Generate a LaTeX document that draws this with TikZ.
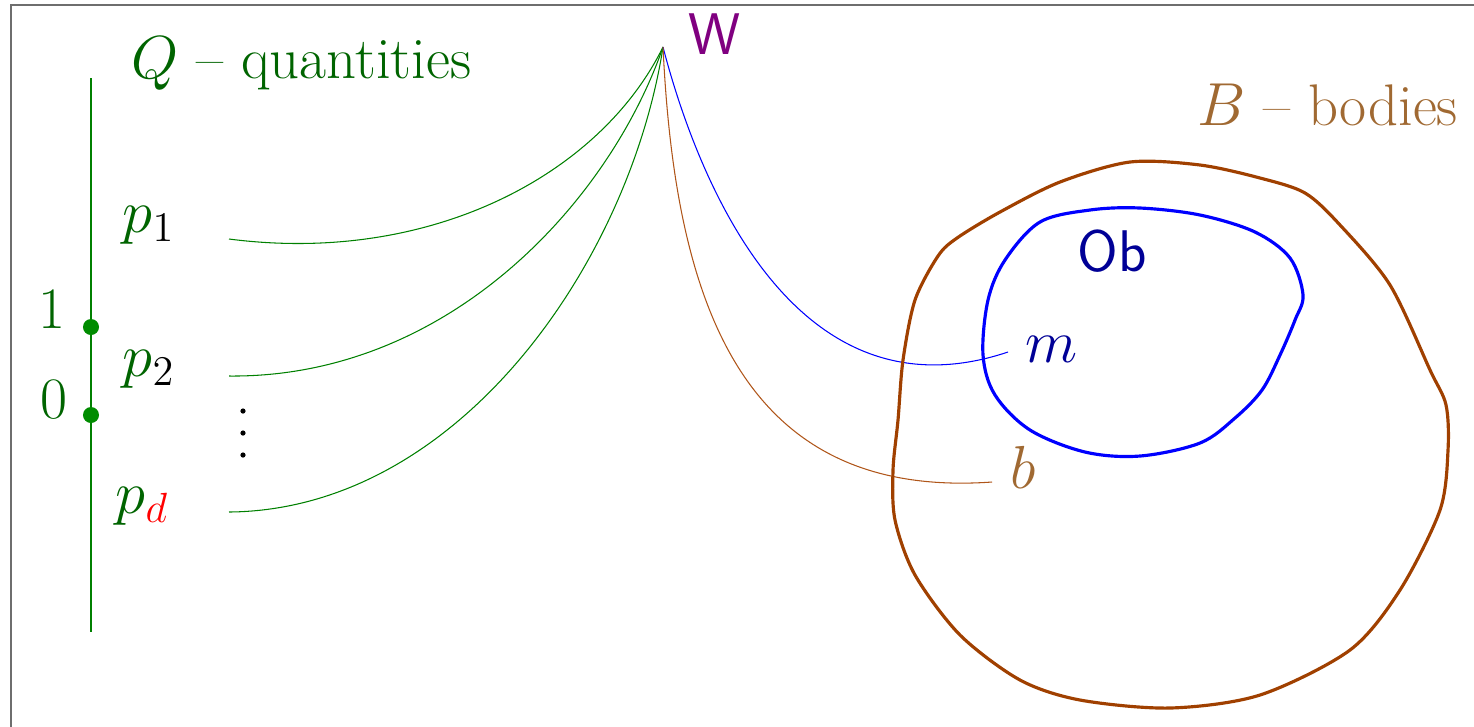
\documentclass[tikz,border=0pt]{standalone}
\begin{document}
\definecolor{qtext}{RGB}{0,100,0}
\definecolor{qline}{RGB}{0,128,0}
\definecolor{qdot}{RGB}{0,140,0}
\definecolor{btext}{RGB}{160,105,50}
\definecolor{bbody}{RGB}{160,64,0}
\definecolor{bline}{RGB}{175,85,25}
\definecolor{obtext}{RGB}{0,0,150}
\definecolor{wpurple}{RGB}{128,0,128}
\definecolor{framegray}{RGB}{110,110,110}
\begin{tikzpicture}[x=0.01cm,y=-0.01cm,
  lbl/.style={inner sep=0pt,font=\fontsize{16.7}{20}\selectfont},
  sflbl/.style={inner sep=0pt,font=\fontsize{16.7}{20}\selectfont\sffamily},
  thinq/.style={qline,line width=0.3pt},
  body/.style={line width=0.9pt},
  dotq/.style={circle,fill=qdot,inner sep=0pt,minimum size=0.16cm}]
\useasboundingbox (0,0) rectangle (1474,726);
\draw[framegray,line width=0.6pt] (11,5) rectangle (1490,740);
% axis
\coordinate (axtop) at (91,78);
\coordinate (axbot) at (91,632);
\draw[qline,line width=0.45pt] (axtop) -- (axbot);
\node[dotq] (one) at (91,327) {};
\node[dotq] (zero) at (91,415) {};
\node[lbl,text=qtext,anchor=base east] (l1) at (66,328) {1};
\node[lbl,text=qtext,anchor=base east] (l0) at (68,418) {0};
% titles
\node[lbl,text=qtext,anchor=base west] (Q) at (131,78) {$Q$ -- quantities};
\node[lbl,text=btext,anchor=base west] (B) at (1197,125) {$B$ -- bodies};
\node[sflbl,text=wpurple,anchor=base west] (Wl) at (688,54) {W};
% p labels
\node[lbl,text=qtext,anchor=base west] (p1) at (122,232) {$p_{\textcolor{black}{1}}$};
\node[lbl,text=qtext,anchor=base west] (p2) at (122,376) {$p_{\textcolor{black}{2}}$};
\node[lbl,text=qtext,anchor=base west] (pd) at (115,513) {$p_{\textcolor{red}{d}}$};
\fill (243,411) circle (2.6);
\fill (243,433) circle (2.6);
\fill (243,455) circle (2.6);
% apex and ends
\coordinate (W) at (663,47);
\coordinate (e1) at (229,239);
\coordinate (e2) at (229,376);
\coordinate (e3) at (229,512);
\coordinate (em) at (1008,352);
\coordinate (eb) at (992,482);
\draw[thinq] (e1) .. controls (430,265) and (600,175) .. (W);
\draw[thinq] (e2) .. controls (450,378) and (610,200) .. (W);
\draw[thinq] (e3) .. controls (460,510) and (630,260) .. (W);
\draw[blue,line width=0.3pt] (W) .. controls (695,170) and (790,425) .. (em);
\draw[bline,line width=0.3pt] (W) .. controls (675,300) and (740,500) .. (eb);
% body B
\draw[bbody,body] plot[smooth cycle,tension=0.5] coordinates {
 (957,238) (1000,212) (1060,182) (1130,162) (1200,165) (1260,178) (1305,193)
 (1340,225) (1390,285) (1430,370) (1446,405) (1448,450) (1440,510) (1400,590)
 (1350,650) (1260,695) (1170,708) (1080,700) (1020,680) (960,635) (915,575)
 (895,520) (893,470) (898,420) (903,360) (915,300) (938,256)};
% Ob
\draw[blue,body] plot[smooth cycle,tension=0.55] coordinates {
 (1040,222) (1090,210) (1140,208) (1200,215) (1255,232) (1290,258) (1303,295)
 (1295,320) (1280,355) (1262,390) (1235,418) (1200,443) (1140,456) (1085,452)
 (1030,430) (995,395) (983,355) (988,300) (1005,260)};
\node[sflbl,text=obtext,anchor=base west] (Ob) at (1077,271) {Ob};
\node[lbl,text=obtext,anchor=base west] (m) at (1025,362) {$m$};
\node[lbl,text=btext,anchor=base west] (b) at (1010,488) {$b$};
\end{tikzpicture}
\end{document}
